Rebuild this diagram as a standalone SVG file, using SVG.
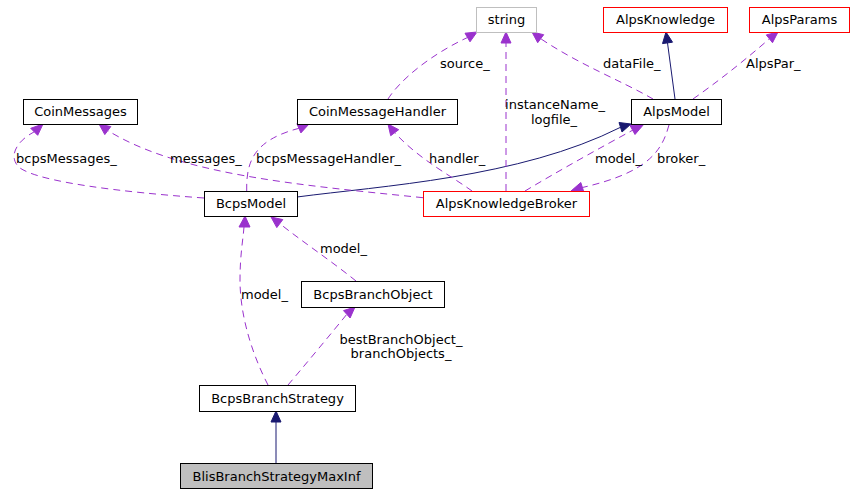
<svg xmlns="http://www.w3.org/2000/svg" width="853" height="493" viewBox="0 0 853 493">
<style>
text{font-family:"DejaVu Sans","Liberation Sans",sans-serif;font-size:13px;fill:#000}
.n{fill:#fff;stroke:#000;stroke-width:1}
.r{fill:#fff;stroke:#ff0000;stroke-width:1}
.g{fill:#fff;stroke:#bfbfbf;stroke-width:1}
.cur{fill:#bfbfbf;stroke:#000;stroke-width:1}
.c{text-anchor:middle}
.inh{fill:none;stroke:#191970;stroke-width:1}
.inha{fill:#191970;stroke:#191970}
.use{fill:none;stroke:#9a32cd;stroke-width:1;stroke-dasharray:7,5}
.usea{fill:#9a32cd;stroke:#9a32cd}
</style>
<rect width="853" height="493" fill="#fff"/>
<g id="edges">
<path class="inh" d="M276,463 L276,422"/>
<polygon class="inha" points="276,411 271,422 281,422"/>
<path class="use" d="M268,385 C255,360 240,320 240,280 C240,255 243,240 244,227"/>
<polygon class="usea" points="245,216 239,227 250,227"/>
<path class="use" d="M288,385 C305,365 330,335 346.8,314.3"/>
<polygon class="usea" points="355,307 350.1,318 343.5,310.6"/>
<path class="use" d="M356,281 C330,260 300,240 279.8,223.6"/>
<polygon class="usea" points="271,217 282.8,219.6 276.8,227.6"/>
<path class="inh" d="M297,197 C380,186 520,178 620.5,127.3"/>
<polygon class="inha" points="631,124 622,132 619,122.5"/>
<path class="use" d="M525,191 C560,170 600,148 633,130"/>
<polygon class="usea" points="644,124 635,134.5 630,125.5"/>
<path class="use" d="M669,125 C662,150 650,172 582.4,187.5"/>
<polygon class="usea" points="571,191 584,192.5 580.8,182.5"/>
<path class="inh" d="M675,99 L667.5,42.9"/>
<polygon class="inha" points="666,32 672.5,42.2 662.5,43.6"/>
<path class="use" d="M693,99 C720,80 745,60 769.4,38.8"/>
<polygon class="usea" points="778,32 772.5,42.7 766.3,34.9"/>
<path class="use" d="M653,99 C620,80 580,65 540.7,38.7"/>
<polygon class="usea" points="532,32 543.7,34.7 537.7,42.7"/>
<path class="use" d="M506,191 L506,43"/>
<polygon class="usea" points="506,32 501,43 511,43"/>
<path class="use" d="M388,99 C400,80 430,55 467.5,37.5"/>
<polygon class="usea" points="477,32 470,41.8 465,33.2"/>
<path class="use" d="M472,191 C450,175 420,160 394.7,132.7"/>
<polygon class="usea" points="388,124 398.7,129.7 390.7,135.7"/>
<path class="use" d="M246.7,191 C246,160 255,140 298.9,128.3"/>
<polygon class="usea" points="309,124 300.9,132.9 296.9,123.7"/>
<path class="use" d="M423,197.7 C300,185 180,175 107.8,130.6"/>
<polygon class="usea" points="99,124 110.8,126.6 104.8,134.6"/>
<path class="use" d="M204,198 C120,192 40,182 20,168 C8,158 15,142 34.2,131.8"/>
<polygon class="usea" points="43,124 37.7,135.3 30.7,128.3"/>
<text x="241" y="299">model_</text>
<text x="320" y="253">model_</text>
<text class="c" x="401" y="344">bestBranchObject_</text>
<text class="c" x="401" y="358">branchObjects_</text>
<text x="16" y="163">bcpsMessages_</text>
<text x="170" y="163">messages_</text>
<text x="256" y="163">bcpsMessageHandler_</text>
<text x="429" y="163">handler_</text>
<text x="595" y="163">model_</text>
<text x="657" y="163">broker_</text>
<text class="c" x="555" y="109">instanceName_</text>
<text class="c" x="554" y="124">logfile_</text>
<text x="440" y="68">source_</text>
<text x="603" y="68">dataFile_</text>
<text x="746" y="68">AlpsPar_</text>
</g>
<g id="string"><rect class="g" x="476.5" y="7.5" width="60" height="25"/><text class="c" x="506.5" y="24">string</text></g>
<g id="AlpsKnowledge"><rect class="r" x="603.5" y="7.5" width="124" height="25"/><text class="c" x="665.5" y="24">AlpsKnowledge</text></g>
<g id="AlpsParams"><rect class="r" x="749.5" y="7.5" width="100" height="25"/><text class="c" x="799.5" y="24">AlpsParams</text></g>
<g id="CoinMessages"><rect class="n" x="23.5" y="99.5" width="114" height="25"/><text class="c" x="80.5" y="116">CoinMessages</text></g>
<g id="CoinMessageHandler"><rect class="n" x="297.5" y="99.5" width="160" height="25"/><text class="c" x="377.5" y="116">CoinMessageHandler</text></g>
<g id="AlpsModel"><rect class="n" x="631.5" y="99.5" width="90" height="25"/><text class="c" x="676.5" y="116">AlpsModel</text></g>
<g id="BcpsModel"><rect class="n" x="204.5" y="191.5" width="93" height="25"/><text class="c" x="251" y="208">BcpsModel</text></g>
<g id="AlpsKnowledgeBroker"><rect class="r" x="423.5" y="191.5" width="166" height="25"/><text class="c" x="506.5" y="208">AlpsKnowledgeBroker</text></g>
<g id="BcpsBranchObject"><rect class="n" x="301.5" y="281.5" width="143" height="26"/><text class="c" x="373" y="299">BcpsBranchObject</text></g>
<g id="BcpsBranchStrategy"><rect class="n" x="199.5" y="385.5" width="156" height="26"/><text class="c" x="277.5" y="403">BcpsBranchStrategy</text></g>
<g id="BlisBranchStrategyMaxInf"><rect class="cur" x="180.5" y="463.5" width="192" height="25"/><text class="c" x="276.5" y="481">BlisBranchStrategyMaxInf</text></g>
</svg>
